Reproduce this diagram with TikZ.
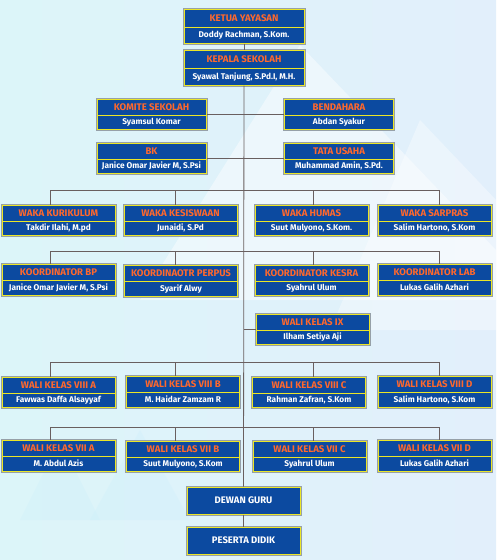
\documentclass[tikz,border=0pt]{standalone}
\usepackage{fontspec}
\setmainfont{Fira Sans}
\usepackage{xcolor}
\usetikzlibrary{shapes.multipart}
\definecolor{birutua}{RGB}{12,74,160}
\definecolor{kuning}{RGB}{235,230,40}
\definecolor{oranye}{RGB}{255,104,45}
\definecolor{abu}{RGB}{150,160,168}
\definecolor{garis}{RGB}{105,95,95}
\definecolor{langitkiri}{RGB}{220,245,249}
\definecolor{langitkanan}{RGB}{226,239,251}
\newcommand{\judul}[1]{\rule[-2.5pt]{0pt}{11pt}{\fontsize{9.6}{10}\selectfont\color{oranye}#1}}
\newcommand{\nama}[1]{\rule[-2.5pt]{0pt}{9pt}#1}

\begin{document}
\begin{tikzpicture}[x=1pt,y=-1pt,
    jabatan/.style={rectangle split, rectangle split parts=2, fill=birutua,
        draw=kuning, line width=1pt, minimum width=113pt,
        inner xsep=2pt, inner ysep=2pt, text=white,
        font=\bfseries\fontsize{8.3}{9}\selectfont,
        preaction={draw=abu, line width=3pt}},
    dasar/.style={fill=birutua, draw=kuning, line width=1pt,
        minimum width=113pt, minimum height=27pt, text=white,
        font=\bfseries\fontsize{9.5}{10}\selectfont,
        preaction={draw=abu, line width=3pt}},
    konektor/.style={draw=garis, line width=0.8pt}]

    % Background
    \shade[left color=langitkiri, right color=langitkanan] (0,0) rectangle (496,560);
    \fill[white, opacity=0.45] (140,300) -- (300,45) -- (496,250) -- (496,300) -- cycle;
    \fill[white, opacity=0.35] (330,330) -- (420,120) -- (496,200) -- (496,330) -- cycle;
    \fill[cyan!20, opacity=0.3] (20,520) -- (60,440) -- (100,520) -- cycle;
    \fill[cyan!20, opacity=0.3] (90,520) -- (140,430) -- (190,520) -- cycle;

    % Pimpinan
    \node[jabatan, minimum width=120pt, inner ysep=3pt] (ketua) at (244,26)
        {\judul{KETUA YAYASAN}\nodepart{two}\nama{Doddy Rachman, S.Kom.}};
    \node[jabatan, minimum width=120pt, inner ysep=3pt] (kepala) at (244,68)
        {\judul{KEPALA SEKOLAH}\nodepart{two}\nama{Syawal Tanjung, S.Pd.I, M.H.}};

    % Staf
    \node[jabatan, minimum width=109pt] (komite) at (151.5,114.5)
        {\judul{KOMITE SEKOLAH}\nodepart{two}\nama{Syamsul Komar}};
    \node[jabatan, minimum width=109pt] (bendahara) at (339,114.5)
        {\judul{BENDAHARA}\nodepart{two}\nama{Abdan Syakur}};
    \node[jabatan, minimum width=109pt] (bk) at (151.5,158.5)
        {\judul{BK}\nodepart{two}\nama{Janice Omar Javier M, S.Psi}};
    \node[jabatan, minimum width=109pt] (tu) at (339,158.5)
        {\judul{TATA USAHA}\nodepart{two}\nama{Muhammad Amin, S.Pd.}};

    % Wakil kepala
    \node[jabatan] (kurikulum) at (58.5,220.5)
        {\judul{WAKA KURIKULUM}\nodepart{two}\nama{Takdir Ilahi, M.pd}};
    \node[jabatan] (kesiswaan) at (180.5,220.5)
        {\judul{WAKA KESISWAAN}\nodepart{two}\nama{Junaidi, S.Pd}};
    \node[jabatan] (humas) at (311.5,220.5)
        {\judul{WAKA HUMAS}\nodepart{two}\nama{Suut Mulyono, S.Kom.}};
    \node[jabatan] (sarpras) at (434.5,220.5)
        {\judul{WAKA SARPRAS}\nodepart{two}\nama{Salim Hartono, S.Kom}};

    % Koordinator
    \node[jabatan] (bp) at (58.5,280)
        {\judul{KOORDINATOR BP}\nodepart{two}\nama{Janice Omar Javier M, S.Psi}};
    \node[jabatan] (perpus) at (181,281)
        {\judul{KOORDINAOTR PERPUS}\nodepart{two}\nama{Syarif Alwy}};
    \node[jabatan] (kesra) at (311.5,280)
        {\judul{KOORDINATOR KESRA}\nodepart{two}\nama{Syahrul Ulum}};
    \node[jabatan] (lab) at (434.5,280)
        {\judul{KOORDINATOR LAB}\nodepart{two}\nama{Lukas Galih Azhari}};

    % Wali kelas IX
    \node[jabatan] (ix) at (312.5,329.5)
        {\judul{WALI KELAS IX}\nodepart{two}\nama{Ilham Setiya Aji}};

    % Wali kelas VIII
    \node[jabatan] (viiia) at (58.5,392)
        {\judul{WALI KELAS VIII A}\nodepart{two}\nama{Fawwas Daffa Alsayyaf}};
    \node[jabatan] (viiib) at (183,392)
        {\judul{WALI KELAS VIII B}\nodepart{two}\nama{M. Haidar Zamzam R}};
    \node[jabatan] (viiic) at (309,392)
        {\judul{WALI KELAS VIII C}\nodepart{two}\nama{Rahman Zafran, S.Kom}};
    \node[jabatan] (viiid) at (434.5,392)
        {\judul{WALI KELAS VIII D}\nodepart{two}\nama{Salim Hartono, S.Kom}};

    % Wali kelas VII
    \node[jabatan] (viia) at (58.5,456)
        {\judul{WALI KELAS VII A}\nodepart{two}\nama{M. Abdul Azis}};
    \node[jabatan] (viib) at (183,456)
        {\judul{WALI KELAS VII B}\nodepart{two}\nama{Suut Mulyono, S.Kom}};
    \node[jabatan] (viic) at (309.5,456)
        {\judul{WALI KELAS VII C}\nodepart{two}\nama{Syahrul Ulum}};
    \node[jabatan] (viid) at (434.5,456)
        {\judul{WALI KELAS VII D}\nodepart{two}\nama{Lukas Galih Azhari}};

    % Guru dan siswa
    \node[dasar] (dewan) at (243.5,500.5) {DEWAN GURU};
    \node[dasar] (peserta) at (243.5,540.5) {PESERTA DIDIK};

    % Garis utama
    \draw[konektor] (ketua) -- (kepala);
    \draw[konektor] (kepala) -- (dewan);
    \draw[konektor] (dewan) -- (peserta);
    \draw[konektor] (komite) -- (bendahara);
    \draw[konektor] (bk) -- (tu);
    \draw[konektor] (ix.west -| kepala.south) -- (ix.west);

    % Cabang baris
    \coordinate (wA) at (50,190);  \coordinate (wD) at (439,190);
    \coordinate (wB) at (175,190); \coordinate (wC) at (313,190);
    \coordinate (kA) at (50,251);  \coordinate (kD) at (439,251);
    \coordinate (kB) at (175,251); \coordinate (kC) at (313,251);
    \coordinate (aA) at (50,362);  \coordinate (aD) at (439,362);
    \coordinate (aB) at (175,362); \coordinate (aC) at (313,362);
    \coordinate (bA) at (50,427);  \coordinate (bD) at (439,427);
    \coordinate (bB) at (175,427); \coordinate (bC) at (313,427);

    \draw[konektor] (wA) -- (wD)
        (wA) -- (wA |- kurikulum.north) (wB) -- (wB |- kesiswaan.north)
        (wC) -- (wC |- humas.north) (wD) -- (wD |- sarpras.north);
    \draw[konektor] (kA) -- (kD)
        (kA) -- (kA |- bp.north) (kB) -- (kB |- perpus.north)
        (kC) -- (kC |- kesra.north) (kD) -- (kD |- lab.north);
    \draw[konektor] (aA) -- (aD)
        (aA) -- (aA |- viiia.north) (aB) -- (aB |- viiib.north)
        (aC) -- (aC |- viiic.north) (aD) -- (aD |- viiid.north);
    \draw[konektor] (bA) -- (bD)
        (bA) -- (bA |- viia.north) (bB) -- (bB |- viib.north)
        (bC) -- (bC |- viic.north) (bD) -- (bD |- viid.north);
\end{tikzpicture}
\end{document}
